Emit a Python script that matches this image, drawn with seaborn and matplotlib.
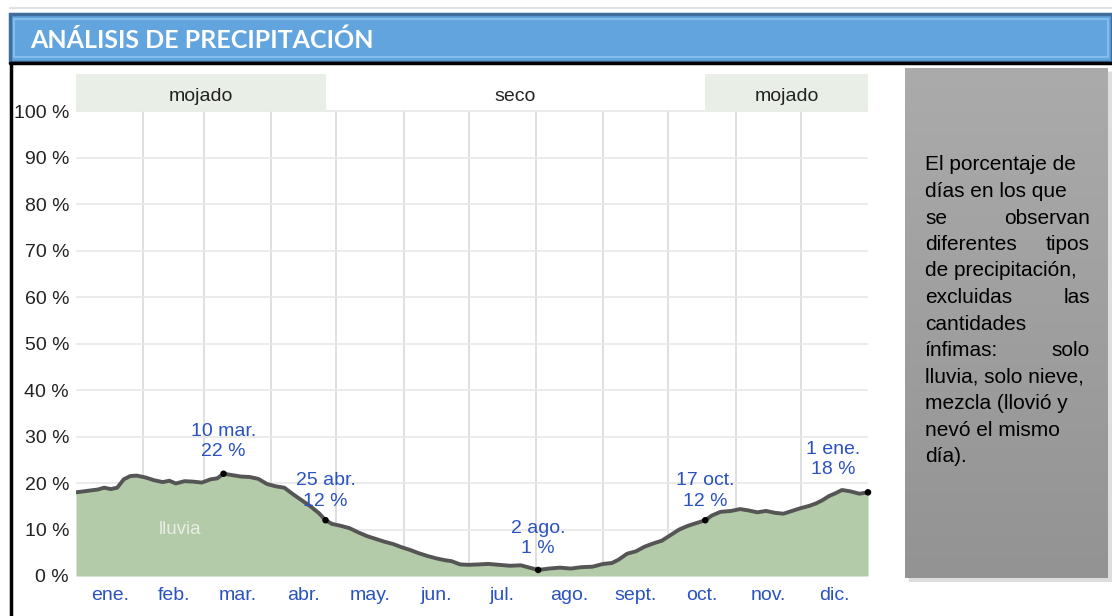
import numpy as np
import pandas as pd
import matplotlib
matplotlib.use("Agg")
import matplotlib.pyplot as plt
from matplotlib.patches import Rectangle
import seaborn as sns

# ==========================================================
# Data
# ==========================================================

day = [0, 5, 10, 13, 16, 19, 22, 25, 28, 32, 36, 40, 43, 46, 50, 54, 58, 62,
       65, 68, 72, 76, 80, 84, 88, 92, 96, 100, 104, 108, 112, 115, 118, 122,
       126, 130, 134, 138, 142, 146, 150, 154, 158, 162, 166, 170, 173, 177,
       181, 186, 190, 195, 200, 205, 209, 213, 218, 223, 228, 233, 238, 243,
       247, 250, 254, 258, 262, 266, 270, 274, 278, 282, 286, 290, 293, 297,
       302, 306, 310, 314, 318, 322, 326, 330, 334, 338, 341, 344, 347, 350,
       353, 357, 361, 365]
rain_pct = [18.0, 18.3, 18.6, 19.0, 18.7, 19.0, 20.8, 21.5, 21.6, 21.2, 20.6,
            20.2, 20.5, 19.9, 20.4, 20.3, 20.1, 20.8, 21.0, 22.0, 21.7, 21.4,
            21.3, 20.9, 19.8, 19.3, 19.0, 17.6, 16.3, 15.0, 13.5, 12.0, 11.2,
            10.8, 10.3, 9.4, 8.6, 8.0, 7.4, 6.9, 6.2, 5.6, 4.9, 4.3, 3.8, 3.4,
            3.2, 2.5, 2.4, 2.5, 2.6, 2.4, 2.2, 2.3, 1.8, 1.3, 1.6, 1.8, 1.6,
            1.9, 2.0, 2.6, 2.8, 3.5, 4.8, 5.3, 6.3, 7.0, 7.6, 8.8, 10.0, 10.8,
            11.4, 12.0, 13.0, 13.8, 14.0, 14.4, 14.1, 13.7, 14.0, 13.6, 13.4,
            14.0, 14.6, 15.1, 15.6, 16.3, 17.2, 17.8, 18.5, 18.2, 17.7, 18.0]

# annotated points
mark_day = [68, 115, 213, 290, 365]
mark_val = [22.0, 12.0, 1.3, 12.0, 18.0]
mark_text = ["10 mar.\n22 %", "25 abr.\n12 %", "2 ago.\n1 %", "17 oct.\n12 %", "1 ene.\n18 %"]
mark_text_day = [68, 115, 213, 290, 349]
mark_text_y = [28.9, 18.3, 8.0, 18.3, 25.0]

month_len = [31, 28, 31, 30, 31, 30, 31, 31, 30, 31, 30, 31]
month_lbl = ["ene.", "feb.", "mar.", "abr.", "may.", "jun.",
             "jul.", "ago.", "sept.", "oct.", "nov.", "dic."]

# season bands
band_start = [0, 115, 290]
band_end = [115, 290, 365]
band_lbl = ["mojado", "seco", "mojado"]
band_wet = [True, False, True]

side_lines = [
    ("El porcentaje de", None),
    ("días en los que", None),
    ("se", "observan"),
    ("diferentes", "tipos"),
    ("de precipitación,", None),
    ("excluidas", "las"),
    ("cantidades", None),
    ("ínfimas:", "solo"),
    ("lluvia, solo nieve,", None),
    ("mezcla (llovió y", None),
    ("nevó el mismo", None),
    ("día).", None),
]

df = pd.DataFrame({"day": day, "pct": rain_pct})

# ==========================================================
# Figure
# ==========================================================

sns.set_theme(style="white")
plt.rcParams["font.family"] = ["Liberation Sans", "DejaVu Sans"]

fig = plt.figure(figsize=(11.12, 6.16), dpi=100)
W, H = 1112, 616


def px(x0, y0, x1, y1):
    # pixel box (top-left origin) -> figure fraction [l, b, w, h]
    return [x0 / W, 1 - y1 / H, (x1 - x0) / W, (y1 - y0) / H]


# thin grey line at the very top
fig.add_artist(plt.Line2D([10 / W, 1], [1 - 8 / H, 1 - 8 / H],
                          transform=fig.transFigure, color="#e2e2e2", lw=1.5))

# header bar
l, b, w, h = px(10, 14, 1112, 62)
fig.add_artist(Rectangle((l, b), w, h, transform=fig.transFigure,
                         facecolor="#62a4de", edgecolor="#3f6e9c", lw=2.5))
l, b, w, h = px(14, 19, 1108, 57)
fig.add_artist(Rectangle((l, b), w, h, transform=fig.transFigure,
                         facecolor="#62a4de", edgecolor="#8cc3ef", lw=1.2))
fig.text(30 / W, 1 - 40 / H, "ANÁLISIS DE PRECIPITACIÓN", color="white",
         fontsize=18, fontweight="bold", family=["Lato", "DejaVu Sans"],
         va="center", ha="left")
# black frame lines
fig.add_artist(plt.Line2D([10 / W, 1], [1 - 63 / H, 1 - 63 / H],
                          transform=fig.transFigure, color="black", lw=2.5))
fig.add_artist(plt.Line2D([11 / W, 11 / W], [0, 1 - 63 / H],
                          transform=fig.transFigure, color="black", lw=2.5))

# ----------------------------------------------------------
# main chart
# ----------------------------------------------------------
ax = fig.add_axes(px(76, 74, 868, 576))
ax.set_xlim(0, 365)
ax.set_ylim(0, 108)

edges = np.cumsum([0] + month_len)
centers = (edges[:-1] + edges[1:]) / 2

# grid limited to the 0-100 area
for e in edges[1:-1]:
    ax.plot([e, e], [0, 100], color="#d9d9d9", lw=1.2, zorder=0)
for v in range(10, 101, 10):
    ax.plot([0, 365], [v, v], color="#e8e8e8", lw=1.2, zorder=0)

ax.fill_between(df["day"], df["pct"], 0, color="#b3cba8", lw=0, zorder=1)
sns.lineplot(data=df, x="day", y="pct", ax=ax, color="#555555", lw=2.8,
             zorder=2)
sns.scatterplot(x=mark_day, y=mark_val, ax=ax, color="black", s=22,
                edgecolor="none", zorder=4, clip_on=False)

for txt, tx, ty in zip(mark_text, mark_text_day, mark_text_y):
    ax.text(tx, ty, txt, ha="center", va="center", color="#2a52c0",
            fontsize=14, linespacing=1.25, zorder=5)

ax.text(48, 10, "lluvia", ha="center", va="center", color="#e8eee4",
        fontsize=13.5, zorder=3)

# season bands
for s, e, lbl, wet in zip(band_start, band_end, band_lbl, band_wet):
    if wet:
        ax.add_patch(Rectangle((s, 100), e - s, 8, facecolor="#e9efe6",
                               edgecolor="none", zorder=1))
    ax.text((s + e) / 2, 103.2, lbl, ha="center", va="center",
            color="#222222", fontsize=14)

ax.set_yticks(range(0, 101, 10))
ax.set_yticklabels([f"{v} %" for v in range(0, 101, 10)], fontsize=14,
                   color="#222222")
ax.set_xticks(centers)
ax.set_xticklabels(month_lbl, fontsize=14, color="#2a52c0")
ax.tick_params(axis="y", length=0, pad=5)
ax.tick_params(axis="x", length=0, pad=8)
ax.set_xlabel("")
ax.set_ylabel("")
for sp in ax.spines.values():
    sp.set_visible(False)

# ----------------------------------------------------------
# side note box
# ----------------------------------------------------------
sh = fig.add_axes(px(908, 71, 1112, 582))
sh.add_patch(Rectangle((0, 0), 1, 1, facecolor="#7a7a7a", alpha=0.25))
sh.axis("off")

box = fig.add_axes(px(905, 68, 1108, 578))
grad = np.linspace(0, 1, 256).reshape(-1, 1)
box.imshow(grad, aspect="auto", cmap=sns.blend_palette(["#ababab", "#939393"],
                                                       as_cmap=True),
           extent=[0, 1, 0, 1])
box.set_xlim(0, 1)
box.set_ylim(0, 1)
box.axis("off")

tl, tr = 925 / W, 1090 / W
for i, (left, right) in enumerate(side_lines):
    y = 1 - (165 + i * 26.5) / H
    fig.text(tl, y, left, ha="left", va="center", fontsize=15, color="black")
    if right:
        fig.text(tr, y, right, ha="right", va="center", fontsize=15,
                 color="black")

plt.savefig("out.png", dpi=100)
plt.close()
